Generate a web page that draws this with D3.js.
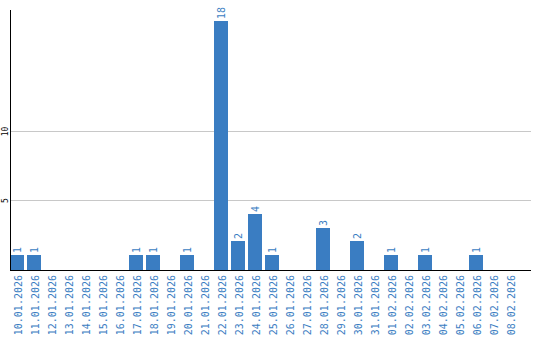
<!DOCTYPE html>
<html><head><meta charset="utf-8">
<script src="https://cdn.jsdelivr.net/npm/d3@7"></script>
<style>body{margin:0;background:#fff}svg{display:block}</style>
</head><body>
<svg id="c" width="540" height="340"></svg>
<script>
const categories = ["10.01.2026","11.01.2026","12.01.2026","13.01.2026","14.01.2026","15.01.2026","16.01.2026","17.01.2026","18.01.2026","19.01.2026","20.01.2026","21.01.2026","22.01.2026","23.01.2026","24.01.2026","25.01.2026","26.01.2026","27.01.2026","28.01.2026","29.01.2026","30.01.2026","31.01.2026","01.02.2026","02.02.2026","03.02.2026","04.02.2026","05.02.2026","06.02.2026","07.02.2026","08.02.2026"];
const values = [1,1,0,0,0,0,0,1,1,0,1,0,18,2,4,1,0,0,3,0,2,0,1,0,1,0,0,1,0,0];
const yTicks = [5, 10];
const yMax = 18.77;

const svg = d3.select("#c");
const blue = "#3a7dc2";
const font = "DejaVu Sans Mono";
const mLeft = 10, mRight = 531, mTop = 10, mBottom = 269;

const x = d3.scaleBand().domain(categories)
  .range([mLeft, mLeft + 17 * (categories.length - 3/17)])
  .paddingInner(3/17).paddingOuter(0);
const y = d3.scaleLinear().domain([0, yMax]).range([mBottom, mTop]);

// gridlines
svg.append("g").selectAll("line").data(yTicks).join("line")
  .attr("x1", mLeft).attr("x2", mRight)
  .attr("y1", d => Math.round(y(d)) + 0.5).attr("y2", d => Math.round(y(d)) + 0.5)
  .attr("stroke", "#c8c8c8").attr("stroke-width", 1);

// y tick labels
svg.append("g").selectAll("text").data(yTicks).join("text")
  .attr("transform", d => `translate(5.5,${Math.round(y(d)) + 0.5}) rotate(-90)`)
  .attr("text-anchor", "middle").attr("dy", "0.35em")
  .attr("font-family", font).attr("font-size", 8).attr("fill", "#000")
  .text(d => d);

const barData = values.map((v, i) => ({c: categories[i], v})).filter(d => d.v > 0);

// bars
svg.append("g").selectAll("rect").data(barData).join("rect")
  .attr("x", d => Math.round(x(d.c))).attr("width", Math.round(x.bandwidth()))
  .attr("y", d => Math.round(y(d.v))).attr("height", d => y(0) + 1 - Math.round(y(d.v)))
  .attr("fill", blue);

// value labels
svg.append("g").selectAll("text").data(barData).join("text")
  .attr("transform", d => `translate(${Math.round(x(d.c)) + x.bandwidth() / 2},${Math.round(y(d.v)) - 2}) rotate(-90)`)
  .attr("text-anchor", "start").attr("dy", "0.35em")
  .attr("font-family", font).attr("font-size", 10).attr("fill", blue)
  .text(d => d.v);

// axes lines
svg.append("line").attr("x1", mLeft + 0.5).attr("x2", mLeft + 0.5).attr("y1", mTop).attr("y2", mBottom + 2)
  .attr("stroke", "#000").attr("stroke-width", 1);
svg.append("line").attr("x1", mLeft).attr("x2", mRight).attr("y1", mBottom + 1.5).attr("y2", mBottom + 1.5)
  .attr("stroke", "#000").attr("stroke-width", 1);

// category labels
svg.append("g").selectAll("text").data(categories).join("text")
  .attr("transform", d => `translate(${Math.round(x(d)) + x.bandwidth() / 2 + 1},275) rotate(-90)`)
  .attr("text-anchor", "end").attr("dy", "0.35em")
  .attr("font-family", font).attr("font-size", 10).attr("fill", blue)
  .text(d => d);
</script>
</body></html>
